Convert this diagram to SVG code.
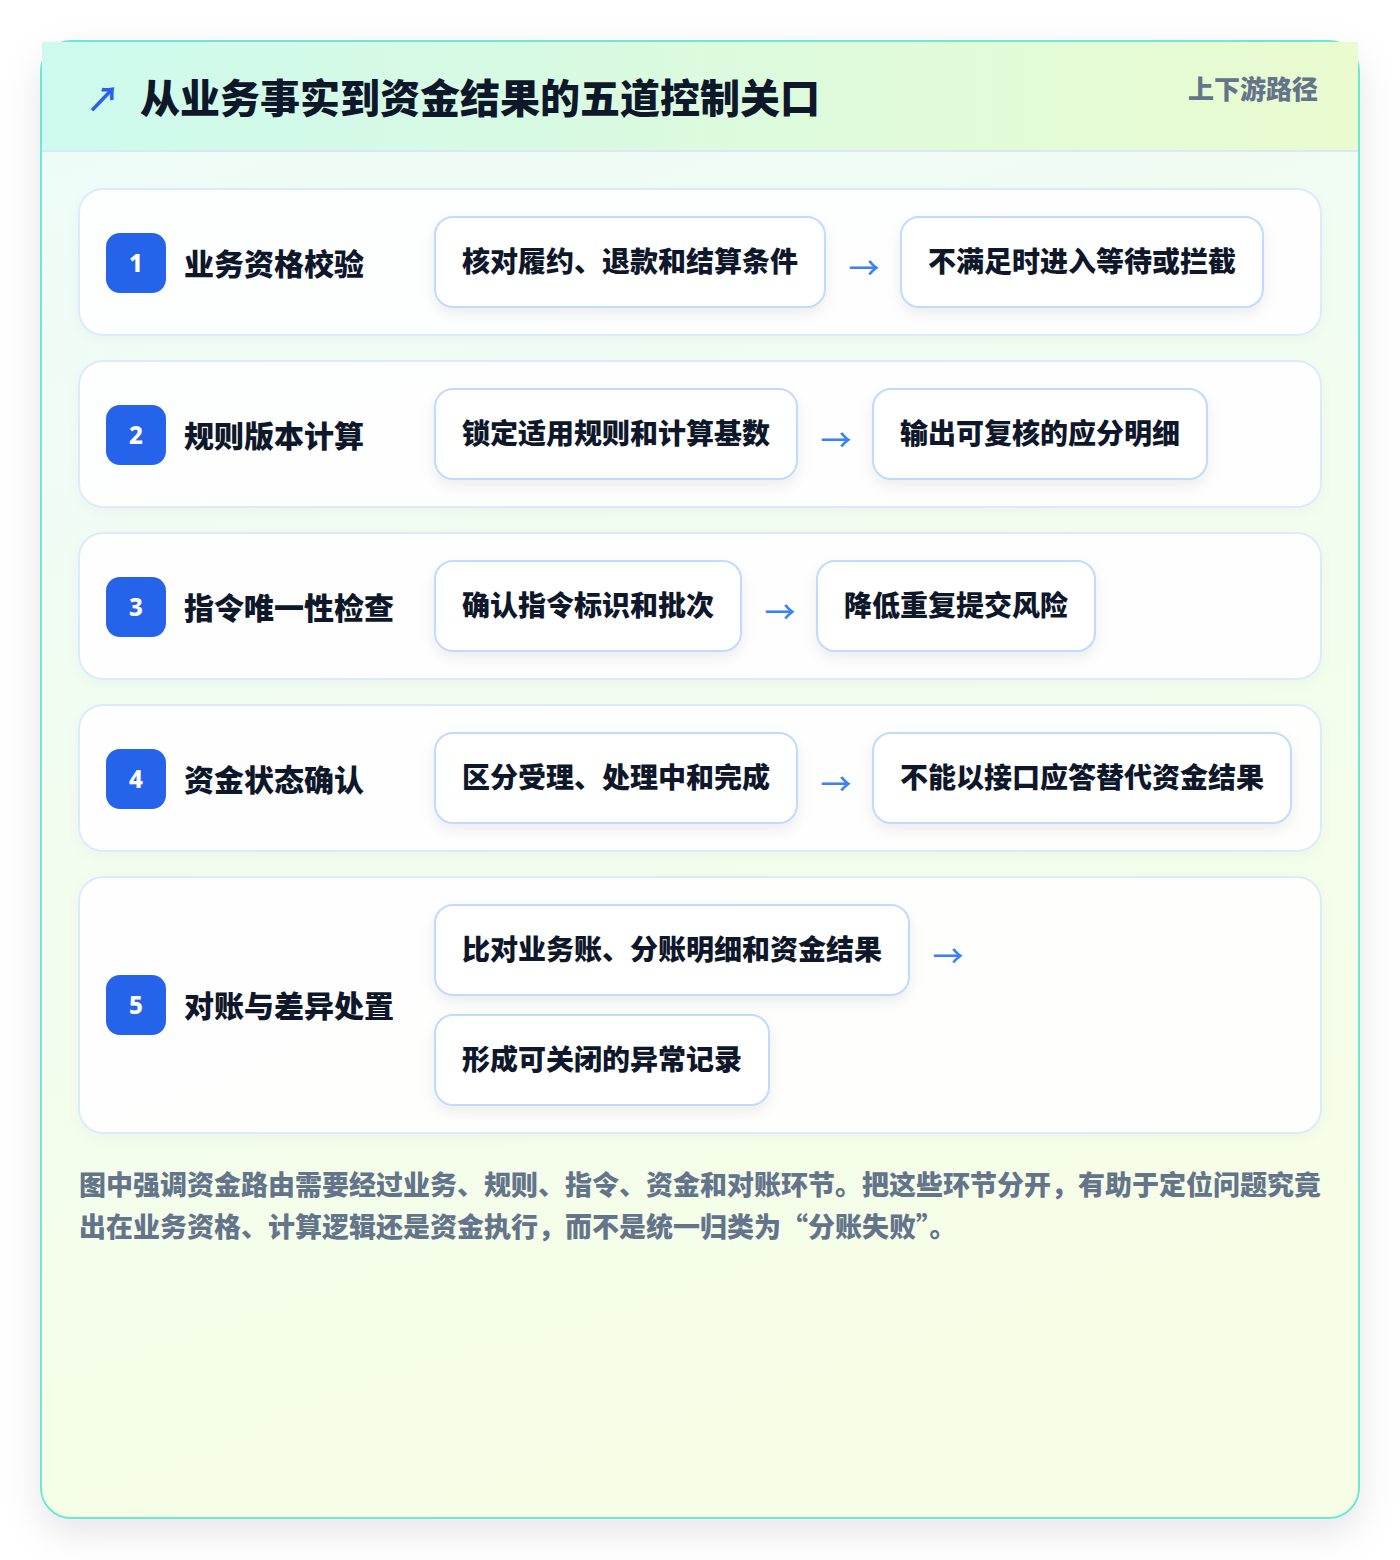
<svg xmlns="http://www.w3.org/2000/svg" width="1400" height="1560" viewBox="0 0 1400 1560">
<defs>
  <linearGradient id="bodyGrad" x1="0" y1="0" x2="0.3" y2="1">
    <stop offset="0" stop-color="#eefcf9"/>
    <stop offset="1" stop-color="#f6fee6"/>
  </linearGradient>
  <linearGradient id="headGrad" x1="0" y1="0" x2="1" y2="0">
    <stop offset="0" stop-color="#cdfaee"/>
    <stop offset="1" stop-color="#eafbcf"/>
  </linearGradient>
  <filter id="cardShadow" x="-10%" y="-10%" width="120%" height="120%">
    <feDropShadow dx="0" dy="14" stdDeviation="18" flood-color="#0f172a" flood-opacity="0.10"/>
  </filter>
  <filter id="chipShadow" x="-10%" y="-20%" width="120%" height="150%">
    <feDropShadow dx="0" dy="6" stdDeviation="7" flood-color="#0f172a" flood-opacity="0.07"/>
  </filter>
  <filter id="rowShadow" x="-5%" y="-10%" width="110%" height="130%">
    <feDropShadow dx="0" dy="4" stdDeviation="6" flood-color="#0f172a" flood-opacity="0.03"/>
  </filter>
</defs>
<style>
  .cjk { font-family: "Noto Sans CJK SC", "Noto Sans", sans-serif; }
  .row { fill: #ffffff; fill-opacity: 0.9; stroke: #dbeafe; stroke-width: 2; }
  .badge { fill: #2563eb; }
  .badgeText { font-family: "Noto Sans", "DejaVu Sans", sans-serif; font-size: 24px; font-weight: 800; fill: #ffffff; }
  .label { font-size: 30px; font-weight: 800; fill: #0f172a; }
  .chip { fill: #ffffff; stroke: #bfdbfe; stroke-width: 2; }
  .chipText { font-size: 28px; font-weight: 800; fill: #0f172a; }
  .arrow { font-family: "Noto Sans CJK SC", sans-serif; font-size: 31px; font-weight: 500; fill: #3b82f6; }
  .foot { font-size: 27px; font-weight: 800; fill: #64748b; }
</style>
<rect width="1400" height="1560" fill="#ffffff"/>
<g id="card">
  <rect x="41" y="41" width="1318" height="1477" rx="30" fill="url(#bodyGrad)" stroke="#6ee7d4" stroke-width="2" filter="url(#cardShadow)"/>
  <rect x="42" y="42" width="1316" height="109" fill="url(#headGrad)"/>
  <line x1="42" y1="151" x2="1358" y2="151" stroke="#dbe7f3" stroke-width="2"/>
</g>
<g id="header">
  <text x="86" y="97" class="cjk" font-size="34" font-weight="700" fill="#2563eb" dominant-baseline="central">↗</text>
  <text x="140" y="96" class="cjk" font-size="40" font-weight="800" fill="#0f172a" dominant-baseline="central">从业务事实到资金结果的五道控制关口</text>
  <text x="1318" y="87" class="cjk" font-size="26" font-weight="800" fill="#64748b" text-anchor="end" dominant-baseline="central">上下游路径</text>
</g>
<g id="row1">
  <rect x="79" y="189" width="1242" height="146" rx="24" class="row" filter="url(#rowShadow)"/>
  <rect x="106" y="233" width="60" height="60" rx="14" class="badge"/>
  <text x="136" y="262" class="badgeText" text-anchor="middle" dominant-baseline="central">1</text>
  <text x="184" y="262" class="cjk label" dominant-baseline="central">业务资格校验</text>
</g>
<g id="row1-step1">
  <rect x="435" y="217" width="390" height="90" rx="18" class="chip" filter="url(#chipShadow)"/>
  <text x="462" y="260" class="cjk chipText" dominant-baseline="central">核对履约、退款和结算条件</text>
</g>
<g id="row1-step2">
  <rect x="901" y="217" width="362" height="90" rx="18" class="chip" filter="url(#chipShadow)"/>
  <text x="928" y="260" class="cjk chipText" dominant-baseline="central">不满足时进入等待或拦截</text>
</g>
<g id="row2">
  <rect x="79" y="361" width="1242" height="146" rx="24" class="row" filter="url(#rowShadow)"/>
  <rect x="106" y="405" width="60" height="60" rx="14" class="badge"/>
  <text x="136" y="434" class="badgeText" text-anchor="middle" dominant-baseline="central">2</text>
  <text x="184" y="434" class="cjk label" dominant-baseline="central">规则版本计算</text>
</g>
<g id="row2-step1">
  <rect x="435" y="389" width="362" height="90" rx="18" class="chip" filter="url(#chipShadow)"/>
  <text x="462" y="432" class="cjk chipText" dominant-baseline="central">锁定适用规则和计算基数</text>
</g>
<g id="row2-step2">
  <rect x="873" y="389" width="334" height="90" rx="18" class="chip" filter="url(#chipShadow)"/>
  <text x="900" y="432" class="cjk chipText" dominant-baseline="central">输出可复核的应分明细</text>
</g>
<g id="row3">
  <rect x="79" y="533" width="1242" height="146" rx="24" class="row" filter="url(#rowShadow)"/>
  <rect x="106" y="577" width="60" height="60" rx="14" class="badge"/>
  <text x="136" y="606" class="badgeText" text-anchor="middle" dominant-baseline="central">3</text>
  <text x="184" y="606" class="cjk label" dominant-baseline="central">指令唯一性检查</text>
</g>
<g id="row3-step1">
  <rect x="435" y="561" width="306" height="90" rx="18" class="chip" filter="url(#chipShadow)"/>
  <text x="462" y="604" class="cjk chipText" dominant-baseline="central">确认指令标识和批次</text>
</g>
<g id="row3-step2">
  <rect x="817" y="561" width="278" height="90" rx="18" class="chip" filter="url(#chipShadow)"/>
  <text x="844" y="604" class="cjk chipText" dominant-baseline="central">降低重复提交风险</text>
</g>
<g id="row4">
  <rect x="79" y="705" width="1242" height="146" rx="24" class="row" filter="url(#rowShadow)"/>
  <rect x="106" y="749" width="60" height="60" rx="14" class="badge"/>
  <text x="136" y="778" class="badgeText" text-anchor="middle" dominant-baseline="central">4</text>
  <text x="184" y="778" class="cjk label" dominant-baseline="central">资金状态确认</text>
</g>
<g id="row4-step1">
  <rect x="435" y="733" width="362" height="90" rx="18" class="chip" filter="url(#chipShadow)"/>
  <text x="462" y="776" class="cjk chipText" dominant-baseline="central">区分受理、处理中和完成</text>
</g>
<g id="row4-step2">
  <rect x="873" y="733" width="418" height="90" rx="18" class="chip" filter="url(#chipShadow)"/>
  <text x="900" y="776" class="cjk chipText" dominant-baseline="central">不能以接口应答替代资金结果</text>
</g>
<g id="row5">
  <rect x="79" y="877" width="1242" height="256" rx="24" class="row" filter="url(#rowShadow)"/>
  <rect x="106" y="975" width="60" height="60" rx="14" class="badge"/>
  <text x="136" y="1004" class="badgeText" text-anchor="middle" dominant-baseline="central">5</text>
  <text x="184" y="1004" class="cjk label" dominant-baseline="central">对账与差异处置</text>
</g>
<g id="row5-step1">
  <rect x="435" y="905" width="474" height="90" rx="18" class="chip" filter="url(#chipShadow)"/>
  <text x="462" y="948" class="cjk chipText" dominant-baseline="central">比对业务账、分账明细和资金结果</text>
</g>
<g id="row5-step2">
  <rect x="435" y="1015" width="334" height="90" rx="18" class="chip" filter="url(#chipShadow)"/>
  <text x="462" y="1058" class="cjk chipText" dominant-baseline="central">形成可关闭的异常记录</text>
</g>
<g id="connectors">
  <text x="864" y="265" class="arrow" text-anchor="middle" dominant-baseline="central">→</text>
  <text x="836" y="437" class="arrow" text-anchor="middle" dominant-baseline="central">→</text>
  <text x="780" y="609" class="arrow" text-anchor="middle" dominant-baseline="central">→</text>
  <text x="836" y="781" class="arrow" text-anchor="middle" dominant-baseline="central">→</text>
  <text x="948" y="953" class="arrow" text-anchor="middle" dominant-baseline="central">→</text>
</g>
<g id="footnote">
  <text x="79" y="1183" class="cjk foot" dominant-baseline="central">图中强调资金路由需要经过业务、规则、指令、资金和对账环节。把这些环节分开，有助于定位问题究竟</text>
  <text x="79" y="1225" class="cjk foot" dominant-baseline="central">出在业务资格、计算逻辑还是资金执行，而不是统一归类为“分账失败”。</text>
</g>
</svg>
